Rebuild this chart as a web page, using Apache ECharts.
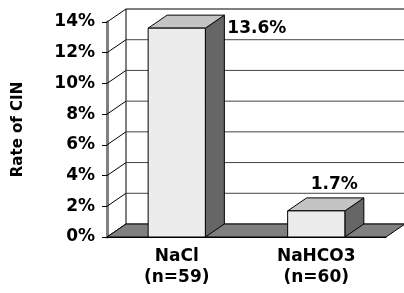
<!DOCTYPE html>
<html>
<head>
<meta charset="utf-8">
<script src="https://cdn.jsdelivr.net/npm/echarts@6/dist/echarts.min.js"></script>
<style>
  html, body { margin: 0; padding: 0; background: #fff; }
  #main { width: 404px; height: 293px; }
</style>
</head>
<body>
<div id="main"></div>
<script>
const categories = ['NaCl\n(n=59)', 'NaHCO3\n(n=60)']
const rates = [13.6, 1.7]
const rateLabels = ['13.6%', '1.7%']
const yTicks = [0, 2, 4, 6, 8, 10, 12, 14]

// depth of the fake 3d box
const DX = 19
const DY = -13
const FONT = '"DejaVu Sans", sans-serif'

function renderWall(params, api) {
  const cs = params.coordSys
  const v = api.value(1)
  const y = api.coord([0, v])[1]
  const x0 = cs.x
  const x1 = cs.x + cs.width
  const isTop = v === yTicks[yTicks.length - 1]
  const children = [
    {
      type: 'line',
      shape: { x1: x0, y1: y, x2: x0 + DX, y2: y + DY },
      style: { stroke: '#000', lineWidth: 1 },
    },
    {
      type: 'line',
      shape: { x1: x0 + DX, y1: y + DY, x2: x1 + DX, y2: y + DY },
      style: { stroke: isTop ? '#000' : '#444', lineWidth: 1 },
    },
  ]
  if (v === 0) {
    const yTop = api.coord([0, yTicks[yTicks.length - 1]])[1]
    children.push({
      type: 'line',
      shape: { x1: x0 + DX, y1: y + DY, x2: x0 + DX, y2: yTop + DY },
      style: { stroke: '#000', lineWidth: 1 },
    })
    children.push({
      type: 'polygon',
      shape: { points: [[x0, y], [x1, y], [x1 + DX, y + DY], [x0 + DX, y + DY]] },
      style: { fill: '#808080', stroke: '#000', lineWidth: 1 },
    })
  }
  return { type: 'group', children }
}

function renderBar(params, api) {
  const cs = params.coordSys
  const idx = api.value(0)
  const top = api.coord([idx, api.value(1)])
  const base = api.coord([idx, 0])
  const bw = api.size([1, 0])[0] * 0.41
  const xl = top[0] - bw / 2
  const xr = top[0] + bw / 2
  const ty = top[1]
  const by = base[1]
  const children = [
    {
      type: 'polygon',
      shape: { points: [[xr, ty], [xr + DX, ty + DY], [xr + DX, by + DY], [xr, by]] },
      style: { fill: '#666', stroke: '#000', lineWidth: 1 },
    },
    {
      type: 'polygon',
      shape: { points: [[xl, ty], [xr, ty], [xr + DX, ty + DY], [xl + DX, ty + DY]] },
      style: { fill: '#c4c4c4', stroke: '#000', lineWidth: 1 },
    },
    {
      type: 'rect',
      shape: { x: xl, y: ty, width: bw, height: by - ty },
      style: { fill: '#ececec', stroke: '#000', lineWidth: 1 },
    },
  ]
  const txt = rateLabels[params.dataIndex]
  // label does not fit above the tall bar -> put it to the right
  if (ty + DY - 20 < cs.y) {
    children.push({
      type: 'text',
      style: { text: txt, x: xr + DX + 3, y: ty, align: 'left', verticalAlign: 'middle',
        font: 'bold 17px ' + FONT, fill: '#000' },
    })
  }
  else {
    children.push({
      type: 'text',
      style: { text: txt, x: top[0] + 18, y: ty + DY - 5, align: 'center', verticalAlign: 'bottom',
        font: 'bold 17px ' + FONT, fill: '#000' },
    })
  }
  return { type: 'group', children }
}

const chart = echarts.init(document.getElementById('main'))
chart.setOption({
  animation: false,
  grid: { left: 107, right: 18, top: 22, bottom: 56, outerBoundsMode: 'none', containLabel: false },
  xAxis: {
    type: 'category',
    data: categories,
    axisLine: { lineStyle: { color: '#000', width: 1 } },
    axisTick: { length: 5, lineStyle: { color: '#000' } },
    axisLabel: {
      interval: 0, margin: 9, color: '#000',
      fontFamily: FONT, fontWeight: 'bold', fontSize: 17, lineHeight: 21,
    },
    splitLine: { show: false },
  },
  yAxis: {
    type: 'value',
    min: 0,
    max: 14,
    interval: 2,
    name: 'Rate of CIN',
    nameLocation: 'middle',
    nameGap: 81,
    nameRotate: 90,
    nameTextStyle: { fontFamily: FONT, fontWeight: 'bold', fontSize: 15, color: '#000' },
    axisLine: { show: true, lineStyle: { color: '#808080', width: 3 } },
    axisTick: { show: true, length: 5, lineStyle: { color: '#000' } },
    axisLabel: {
      formatter: '{value}%', margin: 12, color: '#000',
      fontFamily: FONT, fontWeight: 'bold', fontSize: 17,
    },
    splitLine: { show: false },
  },
  series: [
    {
      type: 'custom',
      renderItem: renderWall,
      data: yTicks.map(v => [0, v]),
      encode: { x: 0, y: 1 },
      clip: false,
      z: 1,
      silent: true,
    },
    {
      type: 'custom',
      renderItem: renderBar,
      data: rates.map((v, i) => [i, v]),
      encode: { x: 0, y: 1 },
      clip: false,
      z: 3,
    },
  ],
})
</script>
</body>
</html>
